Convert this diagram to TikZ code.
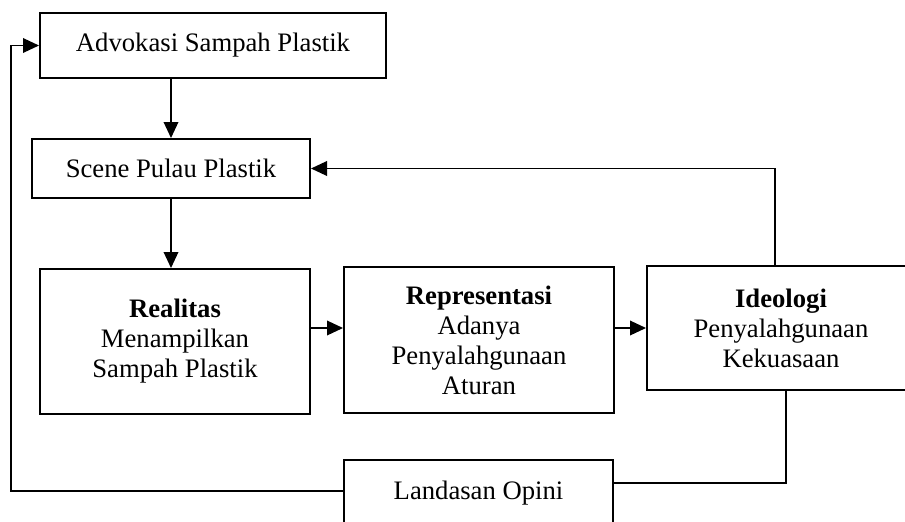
\documentclass[tikz,border=0pt]{standalone}
\usepackage{fontspec}
\setmainfont{Liberation Serif}
\usetikzlibrary{arrows.meta}

\tikzset{
  kotak/.style={draw, line width=1.5pt, align=center, inner sep=0pt,
    font=\fontsize{20}{22.5}\selectfont},
  garis/.style={line width=1pt},
  panah/.style={garis, -{Triangle[length=12pt, width=11pt]}}
}

\begin{document}
\begin{tikzpicture}[x=0.75pt, y=-0.75pt]
    \clip (0,0) rectangle (905,521);

    % kotak
    \node[kotak, minimum width=346*0.75pt, minimum height=65*0.75pt] (adv) at (213, 45.5) {Advokasi Sampah Plastik};
    \node[kotak, minimum width=278*0.75pt, minimum height=59*0.75pt] (scene) at (171, 168.5) {Scene Pulau Plastik};
    \node[kotak, minimum width=270*0.75pt, minimum height=145*0.75pt] (real) at (175, 341.5) {\textbf{Realitas}\\Menampilkan\\Sampah Plastik};
    \node[kotak, minimum width=270*0.75pt, minimum height=146*0.75pt] (rep) at (479, 340) {\textbf{Representasi}\\Adanya\\Penyalahgunaan\\Aturan};
    \node[kotak, minimum width=268*0.75pt, minimum height=124*0.75pt] (ideo) at (781, 328) {\textbf{Ideologi}\\Penyalahgunaan\\Kekuasaan};
    \node[kotak, minimum width=269*0.75pt, minimum height=66*0.75pt] (land) at (478.5, 493) {Landasan Opini};

    % titik bantu
    \coordinate (balik) at (775, 167);
    \coordinate (bawah) at (786, 483);
    \coordinate (kiri) at (11, 491);

    % panah
    \draw[panah] (adv.south -| scene) -- (scene);
    \draw[panah] (scene) -- (scene |- real.north);
    \draw[panah] (real.east |- ideo) -- (rep.west |- ideo);
    \draw[panah] (rep.east |- ideo) -- (ideo);
    \draw[panah] (ideo.north -| balik) |- (scene);
    \draw[garis] (ideo.south -| bawah) |- (land.east |- bawah);
    \draw[panah] (land.west |- kiri) -- (kiri) |- (adv);
  \end{tikzpicture}
\end{document}
